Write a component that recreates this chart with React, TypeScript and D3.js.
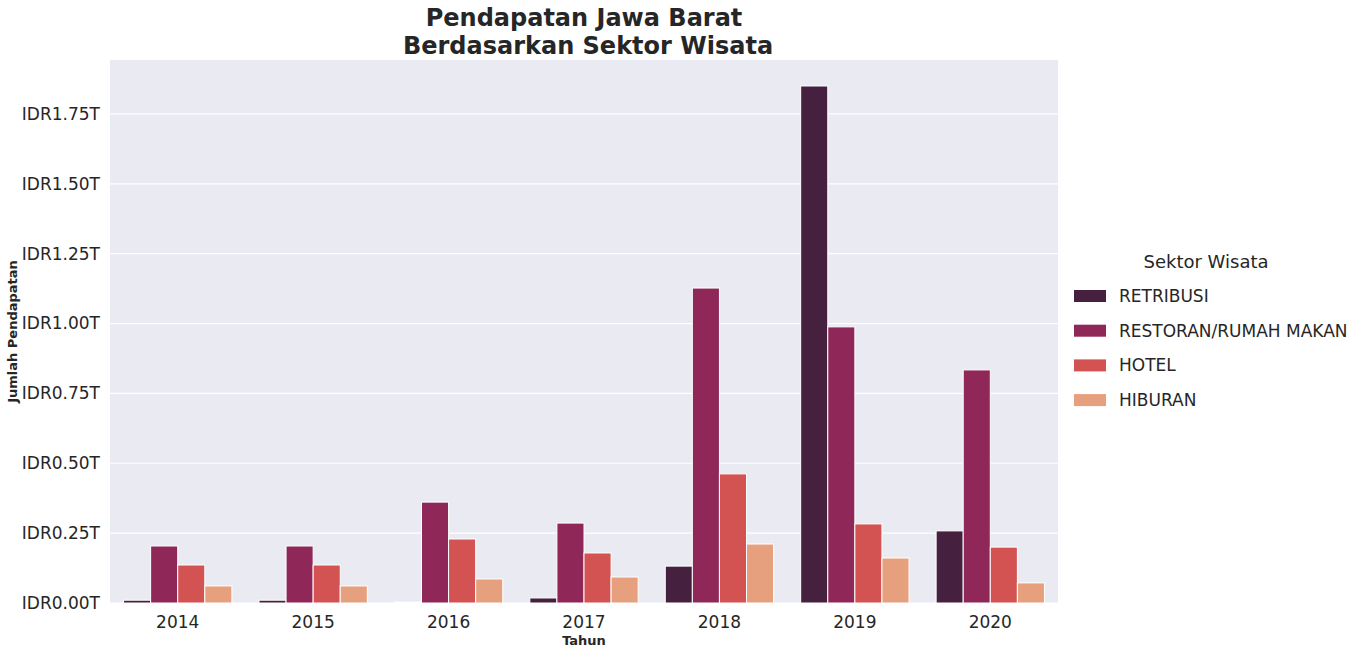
import * as d3 from 'd3';

const years = ['2014', '2015', '2016', '2017', '2018', '2019', '2020'];
const sectors = ['RETRIBUSI', 'RESTORAN/RUMAH MAKAN', 'HOTEL', 'HIBURAN'];
// values in trillions IDR, per sector, per year
const retribusi = [0.01, 0.01, 0.003, 0.018, 0.132, 1.85, 0.258];
const restoran = [0.204, 0.204, 0.361, 0.286, 1.127, 0.988, 0.834];
const hotel = [0.136, 0.136, 0.229, 0.179, 0.462, 0.283, 0.2];
const hiburan = [0.061, 0.061, 0.086, 0.093, 0.211, 0.161, 0.072];
const yTicks = [0, 0.25, 0.5, 0.75, 1.0, 1.25, 1.5, 1.75];
const colors = ['#45213f', '#8f2858', '#d35252', '#e7a07d'];

export default function App() {
  const W = 1354, H = 655;
  const m = { left: 110, right: 1058, top: 60, bottom: 603 };
  const series = [retribusi, restoran, hotel, hiburan];
  const x = d3.scaleBand().domain(years).range([m.left, m.right]).padding(0);
  const inner = d3.scaleBand().domain(sectors).range([0, x.bandwidth() * 0.8]);
  const y = d3.scaleLinear().domain([0, 1.943]).range([m.bottom, m.top]);
  const font = 'DejaVu Sans, sans-serif';
  return (
    <svg width={W} height={H} style={{ position: 'absolute', left: 0, top: 0 }} fontFamily={font}>
      <rect x={m.left} y={m.top} width={m.right - m.left} height={m.bottom - m.top} fill="#eaeaf2" />
      {yTicks.map(t => (
        <g key={t}>
          <line x1={m.left} x2={m.right} y1={y(t)} y2={y(t)} stroke="#fff" strokeWidth={1.2} />
          <text x={100} y={y(t)} dy="0.35em" textAnchor="end" fontSize={17} fill="#262626">
            {'IDR' + t.toFixed(2) + 'T'}
          </text>
        </g>
      ))}
      {years.map((yr, i) => (
        <g key={yr}>
          {series.map((s, j) => (
            <rect key={j} x={x(yr)! + x.bandwidth() * 0.1 + inner(sectors[j])!} y={y(s[i])}
              width={inner.bandwidth()} height={m.bottom - y(s[i])} fill={colors[j]} stroke="#fff" strokeWidth={1} />
          ))}
          <text x={x(yr)! + x.bandwidth() / 2} y={628} textAnchor="middle" fontSize={17} fill="#262626">{yr}</text>
        </g>
      ))}
      <text x={584} y={645} textAnchor="middle" fontSize={13} fontWeight="bold" fill="#262626">Tahun</text>
      <text transform={`translate(17,${(m.top + m.bottom) / 2}) rotate(-90)`} textAnchor="middle" fontSize={13} fontWeight="bold" fill="#262626">Jumlah Pendapatan</text>
      <text x={584} y={26} textAnchor="middle" fontSize={24} fontWeight="bold" fill="#262626">Pendapatan Jawa Barat</text>
      <text x={588} y={54} textAnchor="middle" fontSize={24} fontWeight="bold" fill="#262626">Berdasarkan Sektor Wisata</text>
      <text x={1206} y={268} textAnchor="middle" fontSize={18} fill="#262626">Sektor Wisata</text>
      {sectors.map((s, j) => (
        <g key={s}>
          <rect x={1074} y={290 + j * 34.7} width={32} height={12} fill={colors[j]} />
          <text x={1119} y={296 + j * 34.7} dy="0.35em" fontSize={17} fill="#262626">{s}</text>
        </g>
      ))}
    </svg>
  );
}
